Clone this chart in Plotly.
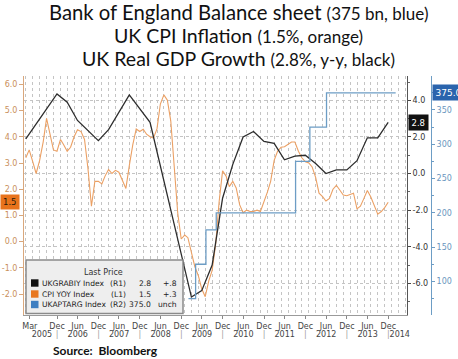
import pandas as pd
import plotly.graph_objects as go

# ---------------- data ----------------
# UK real GDP growth, y/y % (right axis R1) - vertices of the line
gdp_dates = ["2005-03-31", "2005-12-31", "2006-03-31", "2006-06-30", "2006-12-31",
             "2007-03-31", "2007-09-30", "2007-12-31", "2008-03-31", "2009-03-31",
             "2009-06-30", "2009-09-30", "2009-12-31", "2010-03-31", "2010-06-30",
             "2010-09-30", "2010-12-31", "2011-03-31", "2011-06-30", "2011-09-30",
             "2011-12-31", "2012-03-31", "2012-06-30", "2012-09-30", "2012-12-31",
             "2013-03-31", "2013-06-30", "2013-09-30", "2013-12-31"]
gdp_values = [1.9, 4.35, 3.9, 2.9, 1.8,
              2.4, 4.3, 3.55, 2.8, -6.75,
              -6.4, -5.0, -1.35, 0.5, 2.0,
              2.3, 1.75, 1.65, 0.75, 0.95,
              1.0, 0.55, 0.0, 0.2, 0.2,
              0.7, 1.95, 1.95, 2.8]

# UK CPI y/y % (left axis L1), monthly Mar 2005 .. Dec 2013
cpi_start = "2005-03-31"
cpi_values = [3.2, 3.5, 3.05, 2.6, 3.1, 3.8, 4.7, 4.1, 3.5, 3.45,
              3.9, 3.7, 3.45, 3.6, 4.0, 4.27, 4.2, 3.9, 2.8, 1.35,
              2.3, 2.3, 2.2, 2.5, 2.75, 2.6, 2.72, 2.65, 2.3, 2.03,
              2.9, 3.7, 4.3, 4.2, 4.29, 4.1, 4.0, 3.95, 4.3, 5.25,
              5.6, 5.4, 4.6, 2.8, 1.1, 0.1, 0.25, 0.15, -0.4, -0.95,
              -1.3, -1.8, -2.1, -1.5, -1.1, -0.1, 1.5, 2.7, 2.5, 2.1,
              2.3, 2.05, 1.4, 1.1, 1.2, 1.15, 1.15, 1.2, 1.15, 1.5,
              1.9, 2.3, 3.1, 3.45, 3.6, 3.62, 3.7, 3.8, 3.8, 3.45,
              3.2, 3.05, 3.0, 2.85, 2.45, 1.85, 1.72, 1.55, 1.65, 2.0,
              2.15, 1.95, 1.78, 1.75, 1.8, 1.85, 1.25, 1.35, 1.65, 1.95,
              1.7, 1.35, 1.05, 1.15, 1.3, 1.5]

# Bank of England asset purchase target, GBP bn (right axis R2), step changes
apf_dates = ["2009-03-05", "2009-05-07", "2009-08-06", "2009-11-05",
             "2011-10-06", "2012-02-09", "2012-07-05", "2014-03-07"]
apf_values = [75, 125, 175, 200, 275, 325, 375, 375]

# axis tick labels
left_ticks = [-2, -1, 0, 1, 2, 3, 4, 5, 6]
left_tick_text = ["-2.0", "-1.0", "0.0", "1.0", "2.0", "3.0", "4.0", "5.0", "6.0"]
r1_ticks = [-6, -4, -2, 0, 2, 4]
r1_tick_text = ["-6.0", "-4.0", "-2.0", "0.0", "2.0", "4.0"]
r2_ticks = [100, 150, 200, 250, 300, 350]

month_tick_dates = ["2005-05-05"] + [f"{2006 + k // 2}-01-01" if k % 2 == 0 else f"{2006 + k // 2}-07-01"
                                     for k in range(17)]
month_tick_text = ["Mar"] + ["Dec" if k % 2 == 0 else "Jun" for k in range(17)]
years = ["2005", "2006", "2007", "2008", "2009", "2010", "2011", "2012", "2013", "2014"]
year_label_dates = ["2005-08-20"] + [f"{y}-07-02" for y in range(2006, 2014)] + ["2014-04-12"]
year_divider_dates = [f"{y}-01-01" for y in range(2006, 2015)]

legend_names = ["UKGRABIY Index", "CPI YOY Index", "UKAPTARG Index"]
legend_axes = ["(R1)", "(L1)", "(R2)"]
legend_last = ["2.8", "1.5", "375.0"]
legend_change = ["+.8", "+.3", "unch"]
legend_colors = ["#111111", "#e8771f", "#3f7fc1"]

# ---------------- figure ----------------
W, H = 458, 359
ML, MR, MT, MB = 24, 0, 76, 44
PW = W - ML - MR
PH = H - MT - MB


def fx(px):
    return (px - ML) / PW


def fy(py):
    return (H - MB - py) / PH


cpi_dates = pd.date_range(cpi_start, periods=len(cpi_values), freq="ME")

BLACK = "#2d2d2d"
ORANGE = "#eba064"
BLUE = "#6d9dc5"
TICKF = "DejaVu Sans"

fig = go.Figure()
fig.add_trace(go.Scatter(x=cpi_dates, y=cpi_values, xaxis="x", yaxis="y", mode="lines",
                         line=dict(color=ORANGE, width=1.1), showlegend=False))
fig.add_trace(go.Scatter(x=apf_dates, y=apf_values, xaxis="x2", yaxis="y3", mode="lines",
                         line=dict(color=BLUE, width=1.3, shape="hv"), showlegend=False))
fig.add_trace(go.Scatter(x=gdp_dates, y=gdp_values, xaxis="x", yaxis="y2", mode="lines",
                         line=dict(color=BLACK, width=1.3), showlegend=False))

xrange_ = ["2005-03-15", "2014-06-15"]
xdom = [0, fx(407)]

fig.update_layout(
    template="none",
    width=W, height=H,
    margin=dict(l=ML, r=MR, t=MT, b=MB, autoexpand=False),
    paper_bgcolor="white", plot_bgcolor="white",
    showlegend=False,
    xaxis=dict(domain=xdom, type="date", range=xrange_, tickmode="array",
               tickvals=month_tick_dates, ticktext=month_tick_text,
               ticks="outside", ticklen=3, tickcolor="#888",
               tickfont=dict(family=TICKF, size=8, color="#444"),
               showline=True, linecolor="#9a9a9a", linewidth=1,
               showgrid=False, zeroline=False, automargin=False,
               minor=dict(tickmode="linear", tick0="2005-04-01", dtick="M2",
                          showgrid=True, gridcolor="#c4c4c4", griddash="dot",
                          gridwidth=1, ticks="")),
    xaxis2=dict(domain=xdom, type="date", range=xrange_, overlaying="x", anchor="y",
                side="bottom", tickmode="array",
                tickvals=year_label_dates + year_divider_dates,
                ticktext=years + ["<span style='color:#a0a0a0'>|</span>"] * len(year_divider_dates),
                ticks="", showline=False, showgrid=False, zeroline=False,
                tickfont=dict(family=TICKF, size=8, color="#444"),
                ticklabelstandoff=13, ticklabeloverflow="allow", automargin=False),
    yaxis=dict(range=[-2.8, 6.32], tickmode="array", tickvals=left_ticks,
               ticktext=left_tick_text,
               ticks="outside", ticklen=4, tickcolor="#d9a77c",
               showline=True, linecolor="#d9a77c", linewidth=1,
               tickfont=dict(family=TICKF, size=8, color="#c98f5c"),
               ticklabeloverflow="allow",
               showgrid=False, zeroline=False, automargin=False),
    yaxis2=dict(range=[-7.73, 5.33], overlaying="y", side="right", anchor="x",
                tickmode="array", tickvals=r1_ticks, ticktext=r1_tick_text,
                ticks="outside", ticklen=3, tickcolor="#444",
                showline=True, linecolor="#555", linewidth=1,
                tickfont=dict(family=TICKF, size=8, color="#333"),
                showgrid=True, gridcolor="#c4c4c4", griddash="dot", gridwidth=1,
                zeroline=False, automargin=False,
                minor=dict(tickmode="linear", tick0=1, dtick=2, ticks="outside",
                           ticklen=2, tickcolor="#666", showgrid=False)),
    yaxis3=dict(range=[51, 399.5], overlaying="y", side="right", anchor="free",
                position=fx(431), tickmode="array", tickvals=r2_ticks,
                ticks="outside", ticklen=3, tickcolor=BLUE,
                showline=True, linecolor=BLUE, linewidth=1,
                tickfont=dict(family=TICKF, size=8, color="#6a96be"),
                showgrid=False, zeroline=False, automargin=False,
                ticklabeloverflow="allow",
                minor=dict(tickmode="linear", tick0=25, dtick=50, ticks="outside",
                           ticklen=2, tickcolor=BLUE, showgrid=False)),
)

ann = []
# Title lines
TF = "Lato"
title_lines = [
    ("Bank of England Balance sheet", "(375 bn, blue)", 11.5, 20.3),
    ("UK CPI Inflation", "(1.5%, orange)", 35.0, 19.5),
    ("UK Real GDP Growth", "(2.8%, y-y, black)", 58.5, 19.5),
]
for main, sub, yy, fs in title_lines:
    ann.append(dict(xref="paper", yref="paper", x=fx(238.5), y=fy(yy),
                    xanchor="center", yanchor="middle", showarrow=False,
                    text=f"{main} <span style='font-size:17px'>{sub}</span>",
                    font=dict(family=TF, size=fs, color="#111")))

ann.append(dict(xref="paper", yref="paper", x=fx(51), y=fy(350.5),
                xanchor="left", yanchor="middle", showarrow=False,
                text="<b>Source:  Bloomberg</b>",
                font=dict(family=TF, size=12, color="#111")))

# Value tags on the axes
ann.append(dict(xref="paper", yref="y", x=fx(0), y=cpi_values[-1], xanchor="left",
                yanchor="middle", showarrow=False, text="1.5", bgcolor="#e8731c",
                borderpad=2, font=dict(family=TICKF, size=8.5, color="#2a1a0a")))
ann.append(dict(xref="paper", yref="y2", x=fx(408), y=gdp_values[-1], xanchor="left",
                yanchor="middle", showarrow=False, text="2.8", bgcolor="#111",
                borderpad=2.5, font=dict(family=TICKF, size=8.5, color="white")))
ann.append(dict(xref="paper", yref="y3", x=fx(431.5), y=apf_values[-1], xanchor="left",
                yanchor="middle", showarrow=False, text="375.0", bgcolor="#2a64ad",
                borderpad=2.5, font=dict(family=TICKF, size=9, color="white")))

# Legend box contents
ann.append(dict(xref="paper", yref="paper", x=fx(103.5), y=fy(272.5), xanchor="center",
                yanchor="middle", showarrow=False, text="Last Price",
                font=dict(family=TICKF, size=8, color="#333")))
rows_y = [283, 294, 304.5]
shapes = [dict(type="rect", xref="paper", yref="paper", x0=fx(26), x1=fx(183),
               y0=fy(313.5), y1=fy(260), fillcolor="#eeeeee",
               line=dict(color="#8a8a8a", width=1.5), layer="above")]
LF = dict(family=TICKF, size=7.6, color="#222")
for name, axn, last, chg, col, ry in zip(legend_names, legend_axes, legend_last,
                                         legend_change, legend_colors, rows_y):
    shapes.append(dict(type="rect", xref="paper", yref="paper", x0=fx(31), x1=fx(38.5),
                       y0=fy(ry + 3.7), y1=fy(ry - 3.7), fillcolor=col,
                       line=dict(width=0), layer="above"))
    ann.append(dict(xref="paper", yref="paper", x=fx(39.5), y=fy(ry), xanchor="left",
                    yanchor="middle", showarrow=False, text=name, font=LF))
    ann.append(dict(xref="paper", yref="paper", x=fx(128), y=fy(ry), xanchor="right",
                    yanchor="middle", showarrow=False, text=axn, font=LF))
    ann.append(dict(xref="paper", yref="paper", x=fx(153), y=fy(ry), xanchor="right",
                    yanchor="middle", showarrow=False, text=last, font=LF))
    ann.append(dict(xref="paper", yref="paper", x=fx(178.5), y=fy(ry), xanchor="right",
                    yanchor="middle", showarrow=False, text=chg, font=LF))

fig.update_layout(annotations=ann, shapes=shapes)
fig.write_html("out.html", config={"displayModeBar": False},
               post_script="document.body.style.margin='0px';")
